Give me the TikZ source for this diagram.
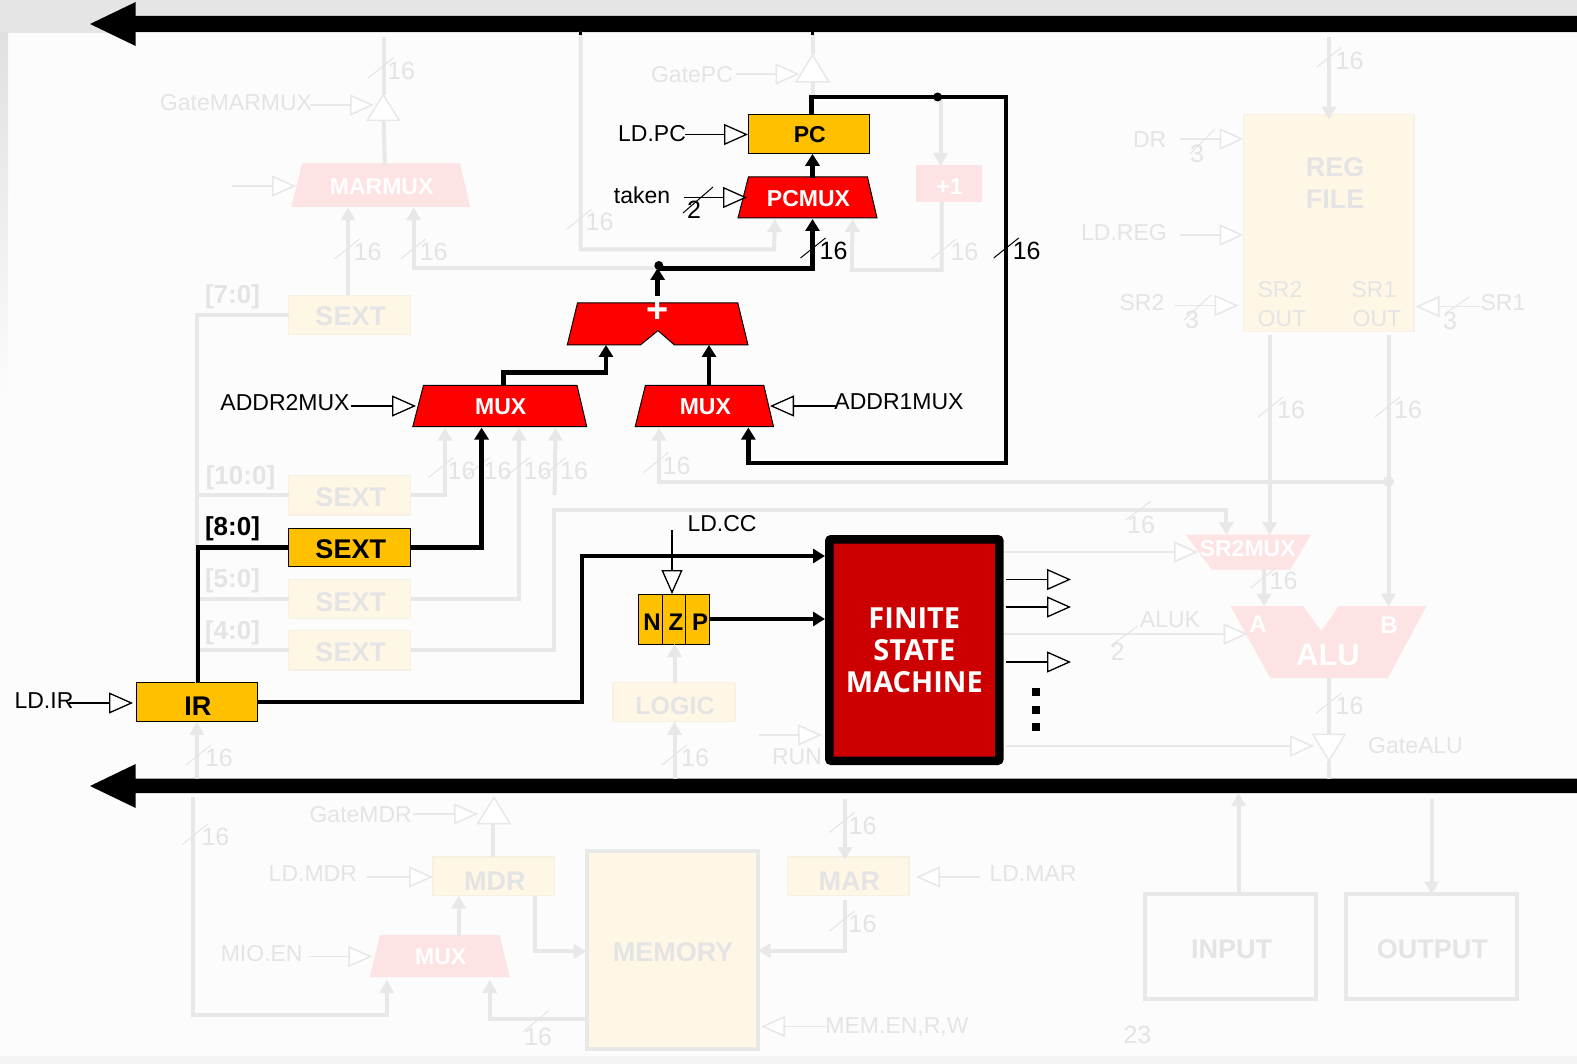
\documentclass[tikz,border=0pt]{standalone}
\usepackage{fontspec}
\setmainfont{Liberation Sans}
\newfontfamily\fsmfont{Open Sans}
\usetikzlibrary{arrows.meta,calc}
\definecolor{fg}{HTML}{E8E8E8}
\definecolor{ft}{HTML}{E4E4E5}
\definecolor{fy}{HTML}{FFF7E6}
\definecolor{fyl}{HTML}{F6F1E2}
\definecolor{fr}{HTML}{FDE3E3}
\definecolor{ay}{HTML}{FFC000}
\definecolor{ar}{HTML}{FF0000}
\definecolor{fsmred}{HTML}{CC0000}
\newcounter{ctn}
\newcounter{ln}
\newcounter{bn}
\tikzset{
 sz23/.style={font=\fontsize{23}{27}\selectfont},
 sz25/.style={font=\fontsize{25}{29}\selectfont},
 bd23/.style={font=\fontsize{23}{27}\selectfont\bfseries},
 bd27/.style={font=\fontsize{27}{32}\selectfont\bfseries},
 anyn/.style={inner sep=0pt,outer sep=0pt},
 lb/.style={anyn,sz23,text=black},
 lg/.style={anyn,sz23,text=ft},
 wb/.style={anyn,sz25,text=black},
 wg/.style={anyn,sz25,text=ft},
 tb/.style={draw=black,line width=1pt},
 tg/.style={draw=ft,line width=1pt},
 ctb/.style={draw=black,line width=1.3pt,-{Triangle[open,fill=white,length=24pt,width=21pt]}},
 ctg/.style={draw=fg,line width=1.6pt,-{Triangle[open,fill=white,length=24pt,width=21pt]}},
 wa/.style={draw=black,line width=4.5pt,line join=miter},
 waa/.style={wa,-{Triangle[length=12pt,width=14pt]}},
 wf/.style={draw=fg,line width=4pt,line join=miter},
 wfa/.style={wf,-{Triangle[length=13pt,width=14pt]}},
 yb/.style={anyn,draw=black,line width=1pt,fill=ay,bd27,text=black},
 yf/.style={anyn,draw=fyl,line width=1.2pt,fill=fy,bd27,text=ft},
 rb/.style={draw=black,line width=1pt,fill=ar},
 rf/.style={draw=fr,line width=1pt,fill=fr},
 rtxt/.style={anyn,bd23,text=white,xshift=1pt,yshift=-1pt},
 gbox/.style={anyn,draw=fg,line width=4pt,bd27,text=ft},
 gate/.style={draw=fg,line width=1.5pt,fill=white},
 fsmbox/.style={draw=black,line width=8.5pt,fill=fsmred,rounded corners=2pt,text=white,align=center,
   font=\fsmfont\fontsize{29}{32}\selectfont\bfseries,inner sep=0pt},
 dot/.style={circle,fill=black,inner sep=0pt,minimum size=9pt},
 dotf/.style={circle,fill=fg,inner sep=0pt,minimum size=11pt},
}
% box by its corners
\newcommand\bx[7]{\pgfmathsetmacro\bw{#5-#3}\pgfmathsetmacro\bh{#6-#4}\pgfmathsetmacro\bcx{(#3+#5)/2}\pgfmathsetmacro\bcy{(#4+#6)/2}%
 \node[#1,minimum width=\bw pt,minimum height=\bh pt] (#2) at (\bcx,\bcy) {\hspace{2pt}#7};}
% text moved down without changing its box
\newcommand\dn[2]{\raisebox{-#1pt}[\height][\depth]{#2}}
% control line with open triangular tip
\newcommand\ctl[5]{\stepcounter{ctn}\coordinate (ca\thectn) at (#2,#3);\coordinate (cb\thectn) at (#4,#5);\draw[#1] (ca\thectn) -- (cb\thectn);}
% free text
\newcommand\lab[4]{\stepcounter{ln}\node[#1] (l\theln) at ({#2},{#3+1}) {#4};}
% bus width mark: tick + number
\newcommand\bwb[2]{\stepcounter{bn}\coordinate (ta\thebn) at ({#1-12.5},{#2+10});\coordinate (tb\thebn) at ({#1+12.5},{#2-10});\draw[tb] (ta\thebn) -- (tb\thebn);\node[wb] (n\thebn) at ({#1+20.5},{#2+3}) {16};}
\newcommand\bwf[2]{\stepcounter{bn}\coordinate (ta\thebn) at ({#1-12.5},{#2+10});\coordinate (tb\thebn) at ({#1+12.5},{#2-10});\draw[tg] (ta\thebn) -- (tb\thebn);\node[wg] (n\thebn) at ({#1+20.5},{#2+3}) {16};}
\newcommand\tck[5]{\stepcounter{bn}\coordinate (ta\thebn) at (#2,#3);\coordinate (tb\thebn) at (#4,#5);\draw[#1] (ta\thebn) -- (tb\thebn);}
\begin{document}
\begin{tikzpicture}[x=1pt,y=-1pt]
\useasboundingbox (0,0) rectangle (1577,1064);
% background
\fill[white!98.8!black] (0,0) rectangle (1577,1064);
\fill[white!90!black] (0,0) rectangle (1577,33);
\shade[top color=white!88!black,bottom color=white!98.8!black] (0,33) rectangle (8,400);
\fill[white!95.5!black] (0,1056) rectangle (1577,1064);

% ---------- buses ----------
\path[fill=black] (90,24) -- (135.7,2) -- (135.7,16) -- (1577,16) -- (1577,32) -- (135.7,32) -- (135.7,46) -- cycle;
\path[fill=black] (90,786) -- (135.7,764) -- (135.7,778.5) -- (1577,778.5) -- (1577,793) -- (135.7,793) -- (135.7,808) -- cycle;

% ---------- faded nodes ----------
\draw[rf] (292,206.5)--(302.5,164)--(459.7,164)--(469.4,206.5)--cycle;
\node[rtxt,minimum width=177pt,minimum height=42pt] (marmux) at (380.7,185.3) {MARMUX};
\bx{rf,anyn,bd23,text=white}{inc}{916}{166}{981}{202}{\dn{3}{+1}}
\bx{yf}{sx7}{288.8}{295.5}{410.7}{334.4}{\dn{1}{SEXT}}
\bx{yf}{sx10}{288.8}{475.6}{410.7}{515}{\dn{2}{SEXT}}
\bx{yf}{sx5}{288.8}{579.4}{410.7}{618.5}{\dn{3}{SEXT}}
\bx{yf}{sx4}{288.8}{630.8}{410.7}{670}{\dn{2}{SEXT}}
\bx{yf}{regf}{1243.6}{114.6}{1414}{331.3}{}
\node[anyn,bd27,text=ft,align=center] (regt) at (1335,183) {REG\\FILE};
\lab{lg}{1280}{289}{SR2}\lab{lg}{1282}{318}{OUT}\lab{lg}{1374}{289}{SR1}\lab{lg}{1377}{318}{OUT}
\bx{yf,font=\fontsize{25}{30}\selectfont\bfseries}{logic}{613}{682.6}{735}{721.8}{\dn{4}{LOGIC}}
\draw[rf] (1212,569)--(1186.7,535)--(1310,535)--(1290,569)--cycle;
\node[anyn,minimum width=123pt,minimum height=34pt] (srmux) at (1248.35,552) {};
\lab{rtxt}{1246.7}{547}{SR2MUX}
\draw[rf] (1231.4,606.6)--(1302.6,606.6)--(1321.4,632)--(1339,606.6)--(1425.6,606.6)--(1387.5,677.5)--(1270.6,677.5)--cycle;
\node[anyn,minimum width=194pt,minimum height=71pt] (alu) at (1328.5,642) {};
\lab{rtxt,font=\fontsize{31}{36}\selectfont\bfseries}{1327}{653}{ALU}
\lab{rtxt,font=\fontsize{24}{28}\selectfont\bfseries}{1257}{622}{A}
\lab{rtxt,font=\fontsize{24}{28}\selectfont\bfseries}{1388}{623}{B}
\bx{yf}{mar}{787.6}{857}{909}{895.5}{\dn{5}{MAR}}
\bx{yf}{mdr}{433}{857}{554.6}{895.5}{\dn{5}{MDR}}
\draw[rf] (370.4,976.5)--(380.6,935.3)--(499,935.3)--(509,976.5)--cycle;
\node[rtxt,minimum width=138pt,minimum height=41pt] (mmux) at (439.7,956) {MUX};
\bx{gbox,fill=fy}{mem}{586.7}{850.8}{757.7}{1049.4}{\dn{2}{MEMORY}}
\bx{gbox}{inp}{1145}{894.4}{1316.3}{999.3}{\dn{2}{INPUT}}
\bx{gbox}{outp}{1345.8}{894.4}{1517}{999.3}{\dn{2}{OUTPUT}}
% gates
\draw[gate] (367.3,120.5)--(383,94.7)--(399.5,120.5)--cycle;
\draw[gate] (796,82)--(812.5,55)--(829,82)--cycle;
\draw[gate] (477.6,823.6)--(494,797.4)--(510,823.6)--cycle;
\draw[gate] (1312.8,734.4)--(1345,734.4)--(1329,760.6)--cycle;

% ---------- active nodes ----------
\bx{yb,bd23}{pc}{748}{114.6}{869.5}{153.8}{PC}
\draw[rb] (738,218)--(748.5,176.8)--(867.4,176.8)--(877,218)--cycle;
\node[rtxt,minimum width=139pt,minimum height=41.2pt] (pcmux) at (807.5,197.4) {PCMUX};
\draw[rb] (567.3,345)--(577.5,303)--(737.8,303)--(748,345)--(674.5,345)--(658,330.6)--(640.3,345)--cycle;
\node[anyn,minimum width=180.7pt,minimum height=42pt] (adder) at (657.65,324) {};
\lab{rtxt,font=\fontsize{38}{42}\selectfont\bfseries}{656.5}{309}{+}
\draw[rb] (412.8,426.6)--(423.5,385.4)--(577,385.4)--(586.7,426.6)--cycle;
\node[rtxt,minimum width=174pt,minimum height=41.2pt] (muxa) at (499.75,406) {MUX};
\draw[rb] (635.2,426.6)--(645.4,385.4)--(763.8,385.4)--(773.5,426.6)--cycle;
\node[rtxt,minimum width=138pt,minimum height=41.2pt] (muxb) at (704.35,406) {MUX};
\bx{yb}{sxa}{288.8}{528}{410.7}{566.8}{\dn{2}{SEXT}}
\bx{yb}{ir}{136}{682.6}{257.6}{721.8}{\dn{4}{IR}}
\bx{yb}{nzp}{638}{594}{709.7}{644}{}
\coordinate (da) at (662,594);\coordinate (db) at (662,644);\coordinate (dc) at (685.7,594);\coordinate (dd) at (685.7,644);
\draw[black,line width=.8pt] (da)--(db) (dc)--(dd);
\lab{anyn,font=\fontsize{24}{28}\selectfont\bfseries,text=black}{652}{621}{N}
\lab{anyn,font=\fontsize{24}{28}\selectfont\bfseries,text=black}{676}{621}{Z}
\lab{anyn,font=\fontsize{24}{28}\selectfont\bfseries,text=black}{700}{621}{P}
\node[fsmbox,minimum width=170.2pt,minimum height=221.5pt] (fsm) at (914.35,650) {\raisebox{-10pt}[0pt][0pt]{\begin{tabular}{@{}c@{}}FINITE\\STATE\\MACHINE\end{tabular}}};

% ---------- faded connectors ----------
\coordinate (tm) at (383.7,37);\coordinate (tma) at (383.7,94.7);\coordinate (tmb) at (383.7,120.5);
\draw[wf] (tm)--(tma);
\draw[wf] (tmb)--([xshift=3]marmux.north);
\draw[wfa] (sx7.north -| 348,0) -- (marmux.south -| 348,0);
\coordinate (jn) at (658.8,268.5);
\draw[wfa] (jn) -| ([xshift=32]marmux.south);
\coordinate (bt) at (580.6,32);\coordinate (bta) at (774,249.5);
\draw[wfa] (bt) |- (bta) -- ([xshift=-33.5]pcmux.south);
\coordinate (pb1) at (812.5,34);\coordinate (pb2) at (812.5,54);\coordinate (pb3) at (812.5,82);\coordinate (pb4) at (812.5,97);
\draw[wf] (pb1)--(pb2) (pb3)--(pb4);
\coordinate (pj) at (940.6,97);
\draw[wfa] (pj) -- (inc.north -| pj);
\coordinate (ib) at (851.7,269.8);
\draw[wfa] ([xshift=-7]inc.south) |- (ib) -- ([xshift=44.2]pcmux.south);
\draw[wf] (sx7.west) -| (ir.north);
\draw[wf] (sx10.west) -- (sx10.west -| ir.north);
\draw[wf] (sx5.west) -- (sx5.west -| ir.north);
\draw[wf] (sx4.west) -- (sx4.west -| ir.north);
\draw[wfa] (sx10.east) -| ([xshift=-55.75]muxa.south);
\draw[wfa] (sx5.east) -| ([xshift=18.25]muxa.south);
\coordinate (c495) at (554.6,495);\coordinate (c510) at (553.6,510);
\draw[wfa] (c495) -- ([xshift=54.85]muxa.south);
\draw[wfa] (sx4.east) -| (c510) -| ([xshift=-22]srmux.north);
\coordinate (rf1) at (1269.6,334.7);\coordinate (rf2) at (1388.5,334.7);
\draw[wfa] (rf1) -- ([xshift=21.25]srmux.north);
\coordinate (aluB) at (1388.5,606.6);\draw[wfa] (rf2) -- (aluB);
\coordinate (sj) at (1388.5,481.5);
\draw[wfa] (sj) -| ([xshift=-46.35]muxb.south);
\node[dotf] (sjd) at (sj) {};
\coordinate (rin) at (1329,37);\draw[wfa] (rin) -- (regf.north -| rin) -- ++(0,5);
\coordinate (srout) at (1264,569);\coordinate (aluA) at (1264,606.6);\draw[wfa] (srout)--(aluA);
\coordinate (ao1) at (1329,677.5);\coordinate (ao2) at (1329,734.4);\coordinate (ao3) at (1329,760.6);\coordinate (ao4) at (1329,778.6);
\draw[wf] (ao1)--(ao2) (ao3)--(ao4);
\draw[wfa] (logic.north -| 674.5,0) -- (nzp.south -| 674.5,0);
\coordinate (lb1) at (674.5,778.6);\draw[wfa] (lb1) -- (logic.south -| lb1);
\coordinate (ib1) at (197,778.6);\draw[wfa] (ib1) -- (ir.south);
\coordinate (mb1) at (845,799);\draw[wfa] (mb1) -- ($(mar.north -| mb1)+(0,3)$);
\coordinate (ms1) at (845,899.5);\coordinate (ms2) at (845,950.6);
\draw[wfa] (ms1) |- (ms2) -- (mem.east |- ms2);
\coordinate (md1) at (493.4,823.6);\draw[wf] (mdr.north -| md1) -- (md1);
\coordinate (dm1) at (534.7,895.5);\coordinate (dm2) at (534.7,951.3);
\draw[wfa] (dm1) |- (dm2) -- (mem.west |- dm2);
\draw[wfa] ([xshift=18]mmux.north) -- ([xshift=18]mmux.north |- mdr.south);
\coordinate (ll1) at (193.4,797);\coordinate (ll2) at (386.7,1015);\coordinate (ll3) at (386.7,980);
\draw[wfa] (ll1) |- (ll2) -- (ll3);
\coordinate (mm1) at (584.7,1018.8);\coordinate (mm2) at (489.8,1018.8);\coordinate (mm3) at (489.8,980);
\draw[wfa] (mm1) -- (mm2) -- (mm3);
\coordinate (ip1) at (1238.6,793);\draw[wfa] (inp.north -| ip1) -- (ip1);
\coordinate (op1) at (1431.7,799);\draw[wfa] (op1) -- (outp.north -| op1);

% faded control lines
\lab{lg}{236}{102}{GateMARMUX}\ctl{ctg}{310}{105}{374}{105}
\ctl{ctg}{232}{186}{296}{186}
\lab{lg}{692}{73.5}{GatePC}\ctl{ctg}{735.7}{74}{799.5}{74}
\lab{lg}{1149.6}{138.6}{DR}\ctl{ctg}{1180}{139}{1243.6}{139}
\lab{lg}{1124}{232}{LD.REG}\ctl{ctg}{1180}{235}{1243.6}{235}
\lab{lg}{1142}{301.6}{SR2}\ctl{ctg}{1174}{305.5}{1238.6}{305.5}
\lab{lg}{1503}{301.6}{SR1}\ctl{ctg}{1480}{306.5}{1415.5}{306.5}
\lab{lg}{797}{756}{RUN}\ctl{ctg}{758.7}{735}{822}{735}
\coordinate (f1) at (1004,552);\coordinate (f1b) at (1198,552);\draw[ctg] (f1)--(f1b);
\coordinate (f2) at (1004,634);\coordinate (f2b) at (1247.7,634);\draw[ctg] (f2)--(f2b);
\coordinate (f3) at (1006,746);\coordinate (f3b) at (1314,746);\draw[ctg] (f3)--(f3b);
\lab{lg}{1170}{619}{ALUK}\lab{wg}{1117.6}{651}{2}
\tck{tg}{1110.5}{646}{1137.4}{626.4}
\lab{lg}{1415.5}{745}{GateALU}
\lab{lg}{1033}{873}{LD.MAR}\ctl{ctg}{979.8}{877}{916}{877}
\lab{lg}{897}{1026}{MEM.EN,R,W}\ctl{ctg}{825.7}{1026.5}{761}{1026.5}
\lab{lg}{360.7}{813.7}{GateMDR}\ctl{ctg}{413}{814}{478}{814}
\lab{lg}{312.8}{873}{LD.MDR}\ctl{ctg}{367}{877}{433}{877}
\lab{lg}{261.7}{952.3}{MIO.EN}\ctl{ctg}{308}{956.5}{372.4}{956.5}
\lab{wg}{1137.4}{1033.4}{23}
% faded marks
\bwf{380.7}{68}\bwf{579}{219.3}\bwf{347}{249}\bwf{413.2}{249}\bwf{943.9}{249}
\bwf{1329}{57.4}\bwf{1270.5}{407}\bwf{1387.5}{407}
\bwf{441}{467.5}\bwf{477}{467.5}\bwf{517}{467.5}\bwf{553.5}{467.5}\bwf{656}{462.5}
\bwf{1263}{578}\bwf{198.5}{755}\bwf{674.5}{755}\bwf{1329}{703}
\bwf{842}{822.5}\bwf{842}{921}\bwf{195}{834.3}
\tck{tg}{1125.7}{520}{1151}{501}\lab{wg}{1141}{524}{16}
\tck{tg}{523}{1032}{548.5}{1011}\lab{wg}{538}{1036}{16}
\tck{tg}{1190}{154}{1215}{129}\lab{wg}{1197}{153}{3}
\tck{tg}{1184}{320}{1211}{295}\lab{wg}{1192}{318.5}{3}
\tck{tg}{1446}{313}{1469}{297}\lab{wg}{1450}{320}{3}
\lab{anyn,font=\fontsize{26}{30}\selectfont\bfseries,text=ft}{232.5}{296}{[7:0]}
\lab{anyn,font=\fontsize{26}{30}\selectfont\bfseries,text=ft}{240.5}{477}{[10:0]}
\lab{anyn,font=\fontsize{26}{30}\selectfont\bfseries,text=ft}{232.5}{580}{[5:0]}
\lab{anyn,font=\fontsize{26}{30}\selectfont\bfseries,text=ft}{232.5}{632}{[4:0]}

% ---------- active connectors ----------
\coordinate (st1) at (580.6,32);\coordinate (st2) at (580.6,35);\draw[black,line width=3pt] (st1)--(st2);
\coordinate (st3) at (812,32);\coordinate (st4) at (812,35);\draw[black,line width=3pt] (st3)--(st4);
\coordinate (pr) at (1006,97);\coordinate (pq) at (1006,463);
\draw[waa] ([xshift=2.75]pc.north) |- (pr) -- (pq) -| ([xshift=43]muxb.south);
\node[dot] (pd) at (937.6,97) {};
\draw[waa] ([xshift=4]pcmux.north) -- ([xshift=4]pcmux.north |- pc.south);
\node[dot] (ad) at (658.8,265.5) {};
\coordinate (ay0) at (657,268.7);\coordinate (ax) at (812.5,268.7);
\draw[waa] (ay0) -- (ax) -- ([xshift=4]pcmux.south);
\coordinate (aa) at (657.65,296);\coordinate (ab) at (657.65,268);
\draw[waa] (aa) -- (ab);
\coordinate (mb) at (606,372.5);
\draw[waa] ([xshift=2.75]muxa.north) |- (mb) -- ([xshift=-51.65]adder.south);
\draw[waa] ([xshift=3.65]muxb.north) -- ([xshift=51.35]adder.south);
\draw[waa] (sxa.east) -| ([xshift=-19.15]muxa.south);
\draw[wa] ([xshift=1.2]ir.north) |- (sxa.west);
\coordinate (fa) at (582,556);
\draw[waa] (ir.east) -| (fa) -- (fa -| fsm.west);
\draw[waa] (nzp.east) -- (nzp.east -| fsm.west);

% active control lines
\lab{lb}{652}{133}{LD.PC}\ctl{ctb}{685}{134.5}{748}{134.5}
\lab{lb}{642}{194}{taken}\ctl{ctb}{684}{197.5}{747}{197.5}
\tck{tb}{683}{213}{713}{187}\lab{wb}{694}{209}{2}
\lab{lb}{285}{402}{ADDR2MUX}\ctl{ctb}{351}{406}{416}{406}
\lab{lb}{899}{401}{ADDR1MUX}\ctl{ctb}{836}{406}{770}{406}
\lab{lb}{44}{700}{LD.IR}\ctl{ctb}{69}{703}{133}{703}
\lab{lb}{722}{523}{LD.CC}\ctl{ctb}{672}{530}{672}{594}
\ctl{ctb}{1006}{579.5}{1071}{579.5}
\ctl{ctb}{1006}{607}{1071}{607}
\ctl{ctb}{1006}{662}{1071}{662}
\bwb{813}{248}\bwb{1006.2}{248}
\lab{anyn,font=\fontsize{26}{30}\selectfont\bfseries,text=black}{232.5}{528}{[8:0]}
\coordinate (q1) at (1036,692);\coordinate (q2) at (1036,709.5);\coordinate (q3) at (1036,727);
\fill[black] ($(q1)+(-4,-4)$) rectangle ($(q1)+(4,4)$);
\fill[black] ($(q2)+(-4,-4)$) rectangle ($(q2)+(4,4)$);
\fill[black] ($(q3)+(-4,-4)$) rectangle ($(q3)+(4,4)$);
\end{tikzpicture}
\end{document}
